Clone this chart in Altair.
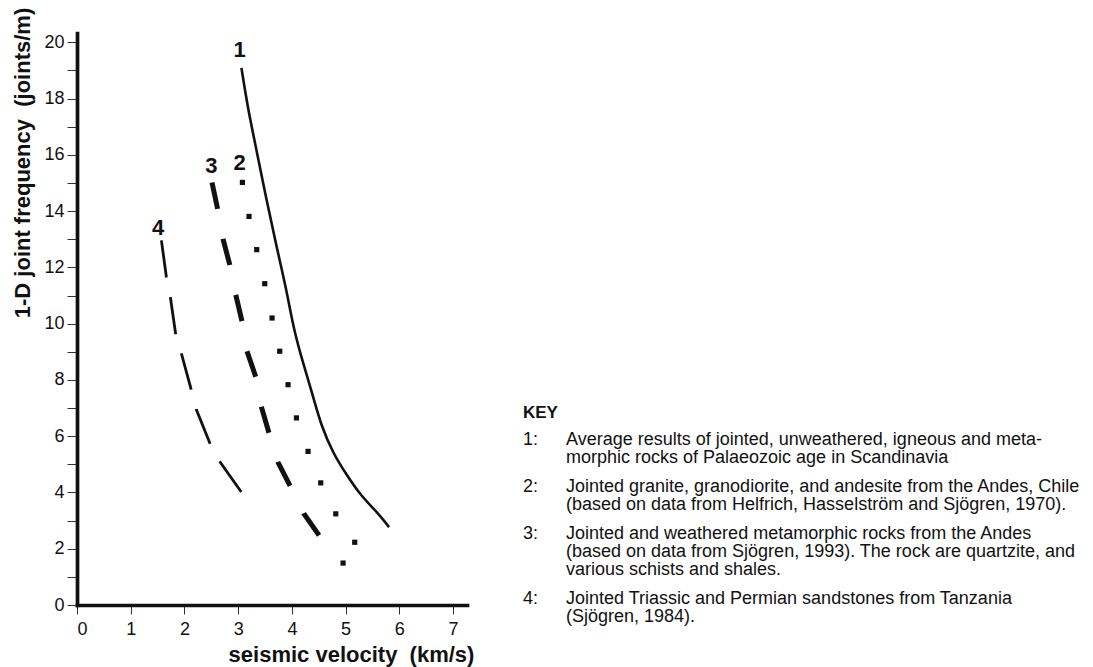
import altair as alt
import pandas as pd

FONT = "Liberation Sans"
INK = "#111111"

# ---- data (x: seismic velocity km/s, y: joints/m) ----
c1_x = [3.061, 3.184, 3.340, 3.526, 3.713, 3.899, 4.035, 4.208, 4.394, 4.550, 4.766, 5.016, 5.295, 5.574, 5.809]
c1_y = [19.09, 17.61, 16.19, 14.41, 12.75, 11.21, 9.79, 8.60, 7.42, 6.35, 5.40, 4.63, 3.86, 3.33, 2.77]

c2_x = [3.079, 3.202, 3.346, 3.495, 3.631, 3.774, 3.929, 4.085, 4.301, 4.537, 4.817, 5.170, 4.953]
c2_y = [15.02, 13.81, 12.63, 11.42, 10.20, 9.02, 7.83, 6.65, 5.46, 4.34, 3.24, 2.23, 1.49]

c3_x = [2.513, 2.614, 2.718, 2.843, 2.955, 3.072, 3.165, 3.327, 3.433, 3.575, 3.742, 3.979, 4.221, 4.519]
c3_y = [15.02, 14.11, 13.01, 12.10, 11.03, 10.08, 9.02, 8.11, 7.04, 6.11, 5.07, 4.19, 3.25, 2.44]

c4_x = [1.571, 1.664, 1.739, 1.838, 1.944, 2.130, 2.223, 2.484, 2.657, 3.072]
c4_y = [12.96, 11.66, 10.93, 9.61, 8.93, 7.63, 6.94, 5.70, 5.10, 3.98]

curve_labels = ["1", "2", "3", "4"]
label_x = [3.029, 3.029, 2.502, 1.508]
label_y = [19.72, 15.71, 15.59, 13.41]

x_ticks = [0, 1, 2, 3, 4, 5, 6, 7]
y_ticks = list(range(0, 21))

key_title = "KEY"
key_numbers = ["1:", "2:", "3:", "4:"]
key_texts = [
    ["Average results of jointed, unweathered, igneous and meta-",
     "morphic rocks of Palaeozoic age in Scandinavia"],
    ["Jointed granite, granodiorite, and andesite from the Andes, Chile",
     "(based on data from Helfrich, Hasselström and Sjögren, 1970)."],
    ["Jointed and weathered metamorphic rocks from the Andes",
     "(based on data from Sjögren, 1993). The rock are quartzite, and",
     "various schists and shales."],
    ["Jointed Triassic and Permian sandstones from Tanzania",
     "(Sjögren, 1984)."],
]

# ---- layout constants ----
W, H = 390, 572
PAD = {"left": 77, "top": 33, "right": 626, "bottom": 62}
XMAX, YMAX = 7.26, 20.33


def frame(xs, ys):
    return pd.DataFrame({"v": xs, "f": ys, "i": list(range(len(xs)))})


xaxis = alt.Axis(
    values=x_ticks, format="d", grid=False,
    domainWidth=3.7, domainColor=INK, domainCap="square",
    tickColor="#333333", tickWidth=1, tickSize=9,
    labelFont=FONT, labelFontSize=18, labelColor=INK, labelPadding=6,
    title="seismic velocity \u00a0(km/s)", titleFont=FONT, titleFontSize=22,
    titleFontWeight="bold", titleColor=INK, titleX=274, titleY=56,
    titleAlign="center", titleBaseline="alphabetic",
)
yaxis = alt.Axis(
    values=y_ticks, grid=False,
    labelExpr="datum.value % 2 == 0 ? datum.label : ''",
    domainWidth=3.7, domainColor=INK, domainCap="square",
    tickColor="#333333", tickWidth=1, tickSize=10,
    labelFont=FONT, labelFontSize=18, labelColor=INK, labelPadding=3,
    title="1-D joint frequency \u00a0(joints/m)", titleFont=FONT, titleFontSize=22,
    titleFontWeight="bold", titleColor=INK, titleX=-48, titleY=129.5,
    titleAlign="center", titleBaseline="alphabetic", titleAngle=270,
)

X = alt.X("v:Q", scale=alt.Scale(domain=[0, XMAX], nice=False, zero=False), axis=xaxis)
Y = alt.Y("f:Q", scale=alt.Scale(domain=[0, YMAX], nice=False, zero=False), axis=yaxis)

curve1 = alt.Chart(frame(c1_x, c1_y)).mark_line(
    color=INK, strokeWidth=2.6, interpolate="basis"
).encode(x=X, y=Y, order="i:O")

curve2 = alt.Chart(frame(c2_x, c2_y)).mark_point(
    shape="square", filled=True, size=27, color=INK, opacity=1
).encode(x=X, y=Y)

curve3 = alt.Chart(frame(c3_x, c3_y)).mark_line(
    color=INK, strokeWidth=5, strokeDash=[27, 30.5], strokeCap="butt"
).encode(x=X, y=Y, order="i:O")

curve4 = alt.Chart(frame(c4_x, c4_y)).mark_line(
    color=INK, strokeWidth=2.8, strokeDash=[37.5, 20], strokeCap="butt"
).encode(x=X, y=Y, order="i:O")

labels_df = pd.DataFrame({"v": label_x, "f": label_y, "t": curve_labels})
labels = alt.Chart(labels_df).mark_text(
    font=FONT, fontSize=22, fontWeight="bold", color=INK,
    align="center", baseline="middle"
).encode(x=X, y=Y, text="t:N")

# ---- key block (pixel positions relative to the plot origin) ----
KEY_X_NUM = 446
KEY_X_TXT = 489
first_base = 412.0
line_h = 18.2
group_gap = 10.6
rows = [{"px": KEY_X_NUM, "py": 385.0, "t": key_title, "w": "bold"}]
yy = first_base
for num, lines in zip(key_numbers, key_texts):
    rows.append({"px": KEY_X_NUM, "py": yy, "t": num, "w": "normal"})
    for ln in lines:
        rows.append({"px": KEY_X_TXT, "py": yy, "t": ln, "w": "normal"})
        yy += line_h
    yy += group_gap
key_df = pd.DataFrame(rows)

key_bold = alt.Chart(key_df[key_df.w == "bold"]).mark_text(
    font=FONT, fontSize=17, fontWeight="bold", color=INK,
    align="left", baseline="alphabetic"
).encode(x=alt.X("px:Q", scale=None), y=alt.Y("py:Q", scale=None), text="t:N")

key_norm = alt.Chart(key_df[key_df.w == "normal"]).mark_text(
    font=FONT, fontSize=18, color=INK, align="left", baseline="alphabetic"
).encode(x=alt.X("px:Q", scale=None), y=alt.Y("py:Q", scale=None), text="t:N")

chart = alt.layer(curve1, curve2, curve3, curve4, labels, key_bold, key_norm).properties(
    width=W, height=H,
    autosize=alt.AutoSizeParams(type="none"),
    padding=PAD,
    background="white",
).configure_view(stroke=None)

chart.save("out.html", embed_options={"renderer": "svg", "actions": False})
